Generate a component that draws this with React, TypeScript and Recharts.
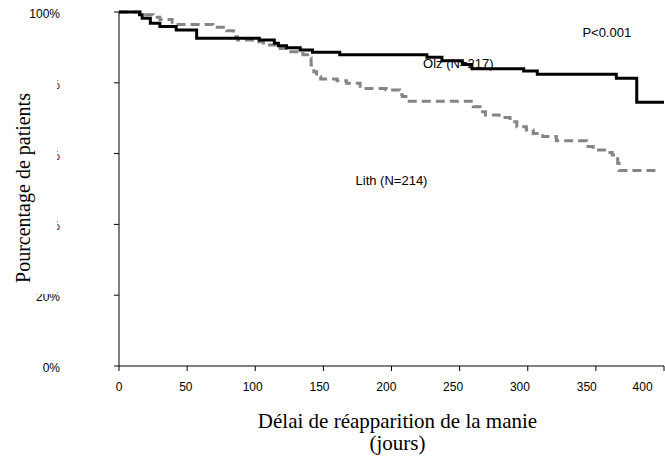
import React from 'react';
import { LineChart, Line, XAxis, YAxis, ReferenceDot } from 'recharts';

// Kaplan-Meier curves (days, % still free of mania)
const olzDays = [0, 15, 17, 23, 30, 42, 57, 103, 114, 117, 123, 133, 142, 162, 226, 237, 252, 259, 297, 307, 365, 380, 400];
const olzPct = [100, 99.2, 98.2, 96.8, 95.9, 94.9, 92.6, 92.1, 91.2, 90.5, 89.9, 89.3, 88.6, 87.9, 87.2, 86.2, 85.2, 84.0, 83.3, 82.4, 81.3, 74.5, 74.5];

const lithDays = [0, 18, 25, 30, 39, 69, 79, 84, 87, 101, 106, 115, 125, 135, 140, 141, 143, 145, 148, 160, 167, 177, 196, 206, 208, 213, 260, 265, 269, 279, 287, 292, 299, 304, 311, 321, 343, 348, 358, 362, 366, 367, 394];
const lithPct = [100, 99.2, 98.5, 97.9, 96.5, 95.7, 94.7, 93.0, 92.1, 91.6, 90.7, 89.7, 88.8, 87.9, 86.9, 85.0, 83.1, 81.7, 81.1, 80.6, 79.9, 78.4, 78.0, 76.6, 76.1, 74.8, 73.2, 71.8, 70.9, 70.2, 69.0, 67.6, 66.7, 65.7, 64.8, 63.6, 62.0, 61.0, 60.3, 59.6, 57.3, 55.2, 55.2];

const xTicks = [0, 50, 100, 150, 200, 250, 300, 350, 400];
const yTicks = [0, 20, 40, 60, 80, 100];

const olzLabel = 'Olz (N=217)';
const lithLabel = 'Lith (N=214)';
const pValue = 'P<0.001';
const xTitle = ['Délai de réapparition de la manie', '(jours)'];
const yTitle = 'Pourcentage de patients';

const olzData = olzDays.map((d, i) => ({ day: d, pct: olzPct[i] }));
const lithData = lithDays.map((d, i) => ({ day: d, pct: lithPct[i] }));

const sans = "Arial, 'Liberation Sans', sans-serif";
const serif = "'Times New Roman', 'Liberation Serif', serif";

const YTick = (props: any) => {
  const { y, payload } = props;
  return (
    <text x={60} y={y} dy={6} textAnchor="end" fontSize={12} fontFamily={sans} fill="#000">
      {payload.value}%
    </text>
  );
};

// labels in the original sit a little left of their tick marks, more so to the right
const XTick = (props: any) => {
  const { x, y, payload } = props;
  return (
    <text x={x - payload.value * 0.026} y={y} dy={13} textAnchor="middle" fontSize={12} fontFamily={sans} fill="#000">
      {payload.value}
    </text>
  );
};

const renderXTitle = (props: any) => {
  const vb = props.viewBox || {};
  const cx = vb.x + vb.width / 2 + 6;
  return (
    <g fontSize={21} fontFamily={serif} fill="#000" textAnchor="middle">
      <text x={cx} y={428}>{xTitle[0]}</text>
      <text x={cx} y={450}>{xTitle[1]}</text>
    </g>
  );
};

const noteLabel = (text: string) => ({ value: text, position: 'center' as const, fontSize: 13, fontFamily: sans, fill: '#000' });

export default function App() {
  return (
    <div style={{ position: 'absolute', left: 0, top: 0, width: 665, height: 461, background: '#fff' }}>
      <LineChart width={665} height={461} margin={{ top: 12, right: 1, bottom: 0, left: 0 }}>
        <XAxis
          type="number"
          dataKey="day"
          domain={[0, 400]}
          ticks={xTicks}
          tickSize={5}
          tickMargin={7}
          height={95}
          stroke="#000"
          tick={<XTick />}
          label={{ content: renderXTitle }}
        />
        <YAxis
          type="number"
          domain={[0, 100]}
          ticks={yTicks}
          width={119}
          tickSize={5}
          stroke="#000"
          tick={<YTick />}
        />
        <Line
          data={lithData}
          dataKey="pct"
          type="stepAfter"
          stroke="#858585"
          strokeWidth={3}
          strokeDasharray="9 5"
          dot={false}
          activeDot={false}
          isAnimationActive={false}
        />
        <Line
          data={olzData}
          dataKey="pct"
          type="stepAfter"
          stroke="#000"
          strokeWidth={3}
          dot={false}
          activeDot={false}
          isAnimationActive={false}
        />
        <ReferenceDot x={249} y={85.6} r={0} fill="none" stroke="none" label={noteLabel(olzLabel)} />
        <ReferenceDot x={200} y={52.3} r={0} fill="none" stroke="none" label={noteLabel(lithLabel)} />
        <ReferenceDot x={358} y={94.35} r={0} fill="none" stroke="none" label={noteLabel(pValue)} />
      </LineChart>
      {/* opaque title box: in the original it hides most of the y tick labels */}
      <div
        style={{
          position: 'absolute',
          left: 10,
          top: 70,
          width: 47,
          height: 224,
          background: '#fff',
        }}
      >
        <div
          style={{
            position: 'absolute',
            left: 13,
            top: 118,
            transform: 'translate(-50%, -50%) rotate(-90deg)',
            whiteSpace: 'nowrap',
            fontFamily: serif,
            fontSize: 20,
            lineHeight: '20px',
            color: '#000',
          }}
        >
          {yTitle}
        </div>
      </div>
    </div>
  );
}
